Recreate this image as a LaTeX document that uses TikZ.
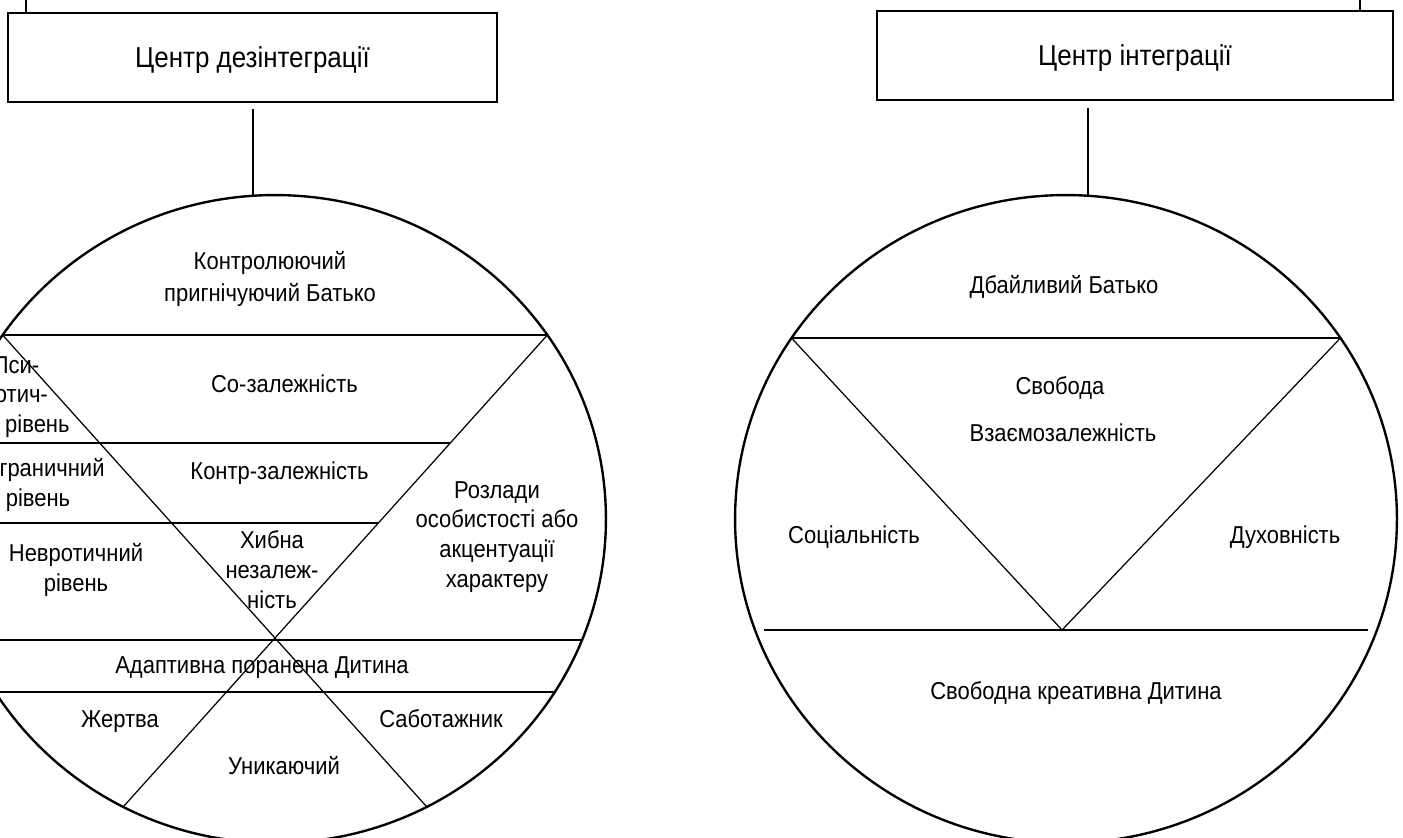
\documentclass[tikz,border=0pt]{standalone}
\usepackage{fontspec}
\setmainfont{Liberation Sans}
\newfontfamily\tallsans[FakeStretch=0.9]{Liberation Sans}
\usetikzlibrary{calc}
\tikzset{
  centrebox/.style={draw,line width=1.1pt,minimum height=1.78cm,inner sep=0pt,text height=14.5pt,text depth=3.5pt,
    font=\tallsans\fontsize{16.4}{19}\selectfont},
  lbl/.style={align=center,inner sep=0pt,font=\tallsans\fontsize{13.9}{17}\selectfont},
  tag/.style={lbl,text height=10.5pt,text depth=3pt},
  rim/.style={line width=1.35pt},
  band/.style={line width=1pt},
  ray/.style={line width=0.7pt}
}

\begin{document}
\begin{tikzpicture}[x=0.02cm,y=-0.02cm]
  \useasboundingbox (0,0) rectangle (1403,838);

  \node[centrebox,minimum width=9.78cm] (dis) at (252.5,57.5) {Центр дезінтеграції};
  \node[centrebox,minimum width=10.32cm] (int) at (1135,55.5) {Центр інтеграції};
  \draw[band] ([xshift=0.38cm]dis.north west) -- ++(0,-20);
  \draw[band] ([xshift=-0.68cm]int.north east) -- ++(0,-20);

  \coordinate (dtop) at (253,195.7);
  \coordinate (itop) at (1088,195.7);
  \draw[band] ($(dis.south -| dtop)+(0,6)$) -- (dtop);
  \draw[band] ($(int.south -| itop)+(0,7)$) -- (itop);

  % left circle
  \coordinate (lc) at (275,519);
  \draw[rim] (lc) ellipse [x radius=6.62cm,y radius=6.48cm];
  \coordinate (p1) at (2.6,335);
  \coordinate (p2) at (547.4,335);
  \coordinate (cross) at (275,638);
  \draw[band] (p1) -- (p2);
  \draw[ray] (p1) -- ($(p1)!1.5575!(cross)$);
  \draw[ray] (p2) -- ($(p2)!1.5575!(cross)$);
  \draw[band] (-47,443) -- (450.3,443);
  \draw[band] (-56,523) -- (378.4,523);
  \draw[band] (-32,640) -- (582,640);
  \draw[band] (-5,692) -- (555,692);

  \node[lbl,font=\tallsans\fontsize{13.9}{18.7}\selectfont] (ctrl) at (270,279) {Контролюючий\\пригнічуючий Батько};
  \node[tag] (cod) at (284.5,386.4) {Со-залежність};
  \node[tag] (cntr) at (279.5,473.4) {Контр-залежність};
  \node[lbl] (fals) at (272,570) {Хибна\\незалеж-\\ність};
  \node[lbl] (disord) at (497,537) {Розлади\\особистості або\\акцентуації\\характеру};
  \node[lbl] (psy) at (16,397) {Пси-\\хотич-\\ний рівень};
  \node[lbl] (bord) at (38,485) {Пограничний\\рівень};
  \node[lbl] (neur) at (76,570) {Невротичний\\рівень};
  \node[tag] (adapt) at (262,667.4) {Адаптивна поранена Дитина};
  \node[tag] (vict) at (120,721.4) {Жертва};
  \node[tag] (sabo) at (441,721.4) {Саботажник};
  \node[tag] (avoid) at (284,768.4) {Уникаючий};

  % right circle
  \coordinate (rc) at (1066,519);
  \draw[rim] (rc) ellipse [x radius=6.62cm,y radius=6.48cm];
  \coordinate (q1) at (791.5,338);
  \coordinate (q2) at (1340.5,338);
  \coordinate (apex) at (1062,630);
  \draw[band] (q1) -- (q2);
  \draw[ray] (q1) -- (apex) -- (q2);
  \draw[band] (764,630) -- (1368,630);

  \node[tag] (care) at (1064,287.4) {Дбайливий Батько};
  \node[tag] (free) at (1060,388.4) {Свобода};
  \node[tag] (inter) at (1063,435.4) {Взаємозалежність};
  \node[tag] (soc) at (854,537.4) {Соціальність};
  \node[tag] (spir) at (1285,537.4) {Духовність};
  \node[tag] (child) at (1076,693.4) {Свободна креативна Дитина};
\end{tikzpicture}
\end{document}
